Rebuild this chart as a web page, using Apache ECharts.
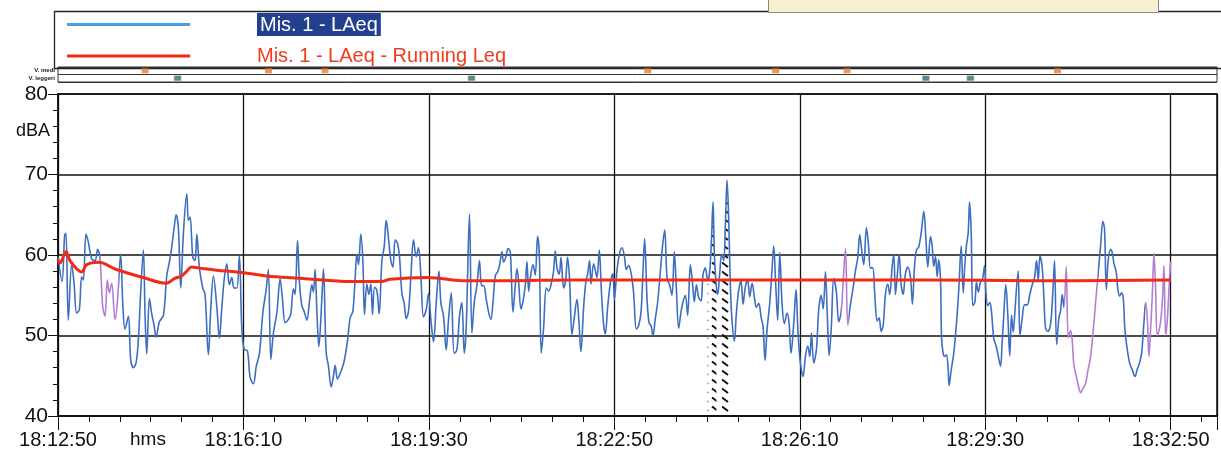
<!DOCTYPE html>
<html>
<head>
<meta charset="utf-8">
<script src="https://cdn.jsdelivr.net/npm/echarts/dist/echarts.min.js"></script>
<style>
  html, body { margin: 0; padding: 0; background: #fff; }
  #chart { width: 1221px; height: 469px; }
</style>
</head>
<body>
<div id="chart"></div>
<script>
// seconds from 18:12:50
const secs = [
  0, 4.3, 7.2, 8.6, 11.1, 14.8, 17.3, 20.1, 23, 25.5, 27.3, 30.2, 32.7, 36.3, 39.9, 42.8, 45.3, 48.2, 50.7, 53.2,
  55.4, 57.9, 61.5, 64, 67.6, 69.8, 72.3, 75.9, 78.4, 81.3, 84.2, 86.7, 89.2, 92.1, 93.9, 95.7, 98.6, 101.1, 103.6, 105.8,
  109.4, 113.7, 117.3, 120.1, 122.7, 125.2, 127.4, 129.8, 132.4, 135.2, 138.9, 140.6, 142.4, 145.4, 147.8, 149.7, 152.5, 156.1, 158.6, 162.2,
  164.8, 167.6, 171.2, 174.1, 176.6, 179.1, 182, 184.8, 187.4, 189.9, 192.8, 195.6, 198.2, 200.7, 204.3, 207.2, 210.8, 213.7, 217.3, 220.9,
  224.5, 226.9, 229.5, 232.3, 236, 239.6, 242.1, 245, 248.5, 251.1, 253.9, 255.7, 258.3, 260.4, 263, 265.8, 268.4, 271.2, 273.8, 275.5,
  277.3, 279.2, 281.3, 284.6, 286.3, 289.2, 291.7, 294.6, 297.1, 298.9, 301.4, 305.1, 308.6, 312.2, 315.1, 318, 320.5, 322.3, 324.1, 326.6,
  328.8, 330.6, 333.1, 335.3, 337.4, 339.2, 341.4, 343.9, 346.4, 349.3, 351.8, 354, 356.5, 359, 361.2, 363.7, 366.2, 368.3, 370.9, 373.4,
  375.5, 378, 380.6, 383.4, 386.3, 388.8, 391.4, 394.2, 397.1, 399.6, 402.2, 405, 407.9, 410.8, 413, 415.8, 418.7, 421.2, 424.1, 427.3,
  430.2, 433, 435.6, 438.1, 440.3, 443.8, 446.4, 448.9, 451.8, 454.6, 456.8, 459, 461.9, 464.4, 466.9, 469.1, 471.6, 474.1, 476.2, 478.8,
  480.6, 483.2, 485.3, 487.8, 490.7, 493.2, 495, 496.8, 499.3, 501.5, 504, 505.8, 507.6, 509.3, 512.3, 514.7, 517.2, 519.1, 521.2, 523.7,
  526.6, 529.1, 531.7, 534.5, 536.3, 538.2, 540.6, 542.5, 545.3, 547.4, 549.6, 551.8, 554.3, 556.8, 559.7, 561.8, 564, 566.9, 569.4, 571.2,
  573.3, 574.8, 577.7, 579.5, 581.3, 583.8, 586, 588.4, 590.3, 592.8, 595.7, 598.6, 600, 602.9, 605.7, 608.3, 610.8, 612.9, 615.4, 618,
  620.8, 623.7, 626.2, 628.8, 630.9, 632.7, 635.3, 637.4, 639.6, 641.7, 644.2, 646.7, 649.6, 652.1, 654.3, 656.9, 659.6, 662.2, 664.7, 666.9,
  669.4, 672, 674.1, 676.6, 679.1, 682, 684.2, 686.3, 688.5, 691, 693.6, 695.7, 698.2, 700.7, 702.9, 704.7, 706.5, 707.9, 710.1, 711.5,
  713.6, 715.8, 718, 719.8, 721.6, 723.4, 725.2, 727, 729.5, 731.6, 734.1, 736.7, 738.8, 741.3, 743.8, 746, 748.6, 751, 753.2, 755.7,
  758.3, 760.4, 762.6, 764.7, 767.6, 770.1, 771.9, 774, 776.2, 778.4, 780.9, 783.4, 786.3, 788.5, 790.6, 793.5, 796, 797.8, 799.9, 801.8,
  803.6, 806.1, 808.6, 810.8, 812.6, 815.1, 818, 820.5, 823.1, 825.3, 827.7, 829.6, 831.7, 834.1, 836.6, 839.5, 842, 844.6, 846.8, 849.3,
  851.8, 854.6, 857.5, 860, 862.5, 864.7, 866.5, 869, 871.9, 874.1, 876.2, 878.7, 880.9, 883.5, 885.6, 887.8, 890, 892.4, 894.9, 897.1,
  899.6, 901.4, 903.2, 905, 907.2, 909.3, 911.5, 914, 916.5, 919.4, 921.5, 923.7, 925.8, 928.3, 930.9, 933.8, 935.9, 938.1, 941, 942.8,
  944.5, 946.4, 948.2, 949.9, 951.8, 952.9, 954.6, 956.4, 958.2, 960.1, 961.1, 963.3, 966.1, 969, 971.5, 974.1, 976.3, 978, 979.8, 981.7,
  983.1, 984.9, 986.6, 988.8, 990.6, 992.5, 994.9, 997.1, 999.3, 1000.7, 1002.8, 1005, 1006.8, 1009.3, 1011.8, 1014, 1016.5, 1018.3, 1020, 1022.2,
  1024.4, 1026.5, 1028.4, 1030.2, 1032, 1033.8, 1035.6, 1037.4, 1039.9, 1042.4, 1045.3, 1048.1, 1050.7, 1053.2, 1055.4, 1057.2, 1059, 1061.5, 1063.3, 1065.1,
  1067.6, 1070.5, 1073, 1074.8, 1077, 1079.5, 1081.3, 1083.1, 1084.9, 1087.4, 1089.6, 1092.1, 1093.9, 1095.6, 1098.5, 1101, 1102.8, 1105.7, 1108.2, 1110.7,
  1113.6, 1116.5, 1119, 1121.5, 1124.4, 1126.9, 1128.7, 1130.6, 1132.7, 1135.2, 1137, 1138.8, 1141.4, 1143.1, 1145, 1147.1, 1149, 1150.7, 1153.3, 1155.7,
  1158.7, 1161.5, 1164, 1166.5, 1168.7, 1171.2, 1173, 1174.9, 1176.6, 1178.4, 1180.2, 1182, 1183.8, 1185.6, 1188.5, 1191, 1192.8, 1194.6, 1196.5, 1198.2,
  1200
]
// Mis. 1 - LAeq (dBA)
const laeq = [
  59.8, 56.7, 62.5, 62.7, 51.9, 58.8, 56.5, 52.8, 53.2, 57.3, 56.9, 62.6, 61.6, 59.5, 59.3, 60.7, 59.7, 53.6, 52.4, 56.9,
  55.3, 56.5, 52.0, 54.1, 60.1, 54.1, 50.8, 52.4, 47.0, 46.0, 46.6, 49.5, 55.4, 60.6, 52.5, 47.7, 54.6, 52.7, 51.3, 49.8,
  51.7, 52.5, 57.4, 59.1, 61.0, 63.3, 65.0, 63.4, 55.9, 62.6, 67.6, 64.3, 64.7, 59.7, 59.3, 62.6, 58.4, 55.9, 55.1, 47.6,
  53.4, 57.4, 53.7, 49.7, 53.3, 56.8, 58.9, 56.3, 57.2, 55.9, 55.9, 59.9, 51.0, 48.3, 48.1, 44.8, 44.0, 46.1, 47.8, 52.8,
  55.7, 58.2, 47.0, 50.3, 52.8, 57.0, 54.5, 51.6, 52.0, 52.7, 55.8, 55.1, 61.8, 56.6, 53.7, 52.9, 51.9, 54.2, 56.3, 55.4,
  58.2, 53.0, 48.6, 54.6, 58.3, 47.9, 46.2, 43.6, 45.0, 46.3, 44.6, 45.5, 46.8, 49.3, 52.2, 53.0, 57.2, 60.1, 58.8, 62.6,
  59.3, 52.6, 56.4, 55.1, 56.4, 52.6, 56.0, 55.6, 52.7, 59.3, 61.0, 64.3, 62.0, 59.3, 58.5, 61.9, 61.4, 59.8, 55.2, 54.0,
  52.1, 53.0, 57.3, 61.9, 59.8, 60.9, 57.3, 52.3, 53.2, 55.2, 51.9, 49.2, 54.0, 58.0, 54.0, 52.4, 48.2, 52.0, 55.3, 47.8,
  48.2, 52.4, 54.1, 47.8, 51.1, 65.1, 50.3, 54.1, 56.2, 59.3, 56.2, 56.2, 54.5, 52.9, 52.0, 54.1, 57.4, 57.9, 58.7, 60.4,
  59.1, 59.8, 60.8, 60.4, 52.9, 56.3, 58.3, 56.7, 53.3, 54.2, 56.3, 59.2, 55.5, 57.1, 58.8, 57.5, 62.3, 60.1, 47.8, 50.9,
  55.9, 55.5, 56.3, 58.0, 60.5, 58.4, 57.6, 59.7, 55.9, 56.8, 59.7, 56.8, 50.1, 52.2, 54.5, 51.8, 48.0, 53.5, 56.8, 57.6,
  59.3, 56.4, 58.9, 58.1, 57.2, 60.6, 55.6, 51.4, 50.2, 53.5, 56.5, 57.7, 54.4, 58.1, 60.2, 60.9, 59.9, 58.2, 58.7, 57.8,
  55.3, 50.8, 51.2, 52.9, 57.9, 62.0, 54.5, 51.6, 51.2, 50.0, 52.1, 54.1, 57.9, 61.2, 63.1, 57.1, 56.3, 55.0, 60.4, 55.9,
  50.9, 53.0, 54.2, 55.0, 52.5, 58.8, 56.7, 54.2, 56.3, 54.7, 54.3, 57.6, 58.4, 56.8, 58.0, 61.8, 66.6, 60.1, 56.0, 55.1,
  57.6, 60.1, 59.3, 63.9, 69.3, 64.3, 56.0, 51.8, 49.3, 52.7, 55.6, 56.8, 53.9, 56.0, 56.9, 54.8, 56.5, 54.8, 53.5, 54.0,
  52.3, 51.1, 46.9, 50.7, 54.0, 58.2, 61.1, 56.5, 51.9, 60.3, 54.0, 51.5, 52.8, 51.5, 47.8, 51.5, 55.7, 51.1, 47.4, 45.7,
  44.9, 47.4, 48.7, 47.4, 50.3, 46.6, 48.3, 53.3, 55.0, 53.3, 57.9, 52.9, 47.5, 51.2, 57.1, 55.4, 51.7, 52.9, 56.7, 60.8,
  51.3, 53.8, 55.9, 58.0, 59.6, 62.5, 60.9, 58.8, 63.4, 61.3, 58.4, 58.4, 55.1, 51.8, 52.2, 50.5, 51.3, 55.1, 56.4, 55.1,
  58.5, 60.1, 55.1, 57.2, 60.1, 56.4, 55.1, 57.7, 58.5, 57.2, 53.9, 58.5, 60.6, 61.0, 62.7, 65.4, 62.3, 58.5, 62.3, 61.1,
  58.6, 59.8, 57.3, 59.4, 56.9, 49.8, 47.8, 47.4, 47.6, 45.7, 43.8, 45.7, 47.8, 51.5, 55.7, 61.1, 55.3, 58.7, 61.2, 62.8,
  66.6, 62.8, 53.7, 54.1, 56.6, 55.4, 56.6, 57.0, 58.7, 55.4, 53.7, 54.1, 52.9, 49.6, 48.7, 47.5, 46.2, 49.2, 52.5, 56.3,
  52.5, 47.5, 52.5, 50.4, 52.9, 55.9, 58.0, 50.0, 52.1, 53.8, 53.8, 55.1, 56.3, 57.2, 59.3, 56.8, 59.9, 58.4, 54.7, 50.9,
  50.5, 51.4, 55.5, 59.3, 48.9, 52.2, 53.1, 55.1, 53.5, 58.5, 49.7, 50.6, 49.3, 46.4, 44.8, 43.5, 42.9, 43.5, 44.0, 45.6,
  47.3, 50.6, 54.0, 57.3, 61.1, 64.2, 63.2, 55.7, 59.4, 60.7, 60.3, 59.0, 57.8, 55.7, 54.9, 55.3, 54.5, 50.7, 48.2, 46.6,
  45.7, 44.9, 45.8, 46.6, 47.8, 51.6, 54.1, 52.0, 47.4, 50.8, 55.0, 60.2, 55.8, 50.0, 51.2, 54.1, 58.7, 50.0, 52.1, 55.8,
  59.2
]
// Mis. 1 - LAeq - Running Leq
const runSecs = [0, 2, 8.6, 12.9, 20, 25.5, 31, 43.5, 63, 92, 117, 126, 133.5, 139, 144, 151, 171, 193, 225, 261, 297, 315, 351, 358, 398, 441, 484, 556, 629, 780, 938, 1050, 1200]
const runLeq = [59.4, 59.0, 60.4, 59.3, 58.3, 57.9, 58.8, 59.1, 58.2, 57.2, 56.5, 57.1, 57.4, 58.0, 58.5, 58.4, 58.1, 57.9, 57.4, 57.1, 56.8, 56.7, 56.75, 57.0, 57.2, 56.8, 56.8, 56.9, 56.9, 56.9, 56.9, 56.8, 56.9]

// marcature (V. medi / V. leggeri)
const mediSecs = [94, 227, 288, 636, 774, 851, 1078]
const leggeriSecs = [129, 446, 936, 984]
// tratti mascherati
const hatchRanges = [[700.5, 710.5], [715.5, 725.5]]
// tratti in viola
const purpleRanges = [[45, 66], [844, 853], [1085, 1122], [1172, 1201]]

const startSec = 18 * 3600 + 12 * 60 + 50
const BLUE = '#3d6ec2'
const PURPLE = '#b27ed2'
const RED = '#f42a18'
const FONT = '"Liberation Sans", Arial, sans-serif'
const N1 = 'Mis. 1 - LAeq'
const N2 = 'Mis. 1 - LAeq - Running Leq'

const pad = (n) => String(n).padStart(2, '0')
const hms = (v) => {
  const s = startSec + Math.round(v)
  return Math.floor(s / 3600) + ':' + pad(Math.floor(s / 60) % 60) + ':' + pad(s % 60)
}

const laeqData = secs.map((t, i) => [t, laeq[i]])
const runData = runSecs.map((t, i) => [t, runLeq[i]])

const hatchData = []
hatchRanges.forEach(([a, b], k) => {
  if (k > 0) hatchData.push([a - 0.5, '-'])
  secs.forEach((t, i) => { if (t >= a && t <= b) hatchData.push([t, laeq[i]]) })
})

const pieces = []
let last = -Infinity
purpleRanges.forEach(([a, b]) => {
  pieces.push({ gte: last, lt: a, color: BLUE })
  pieces.push({ gte: a, lt: b, color: PURPLE })
  last = b
})
pieces.push({ gte: last, color: BLUE })

// hatch pattern
const hatch = document.createElement('canvas')
hatch.width = 10
hatch.height = 9
const hc = hatch.getContext('2d')
hc.strokeStyle = '#111'
hc.lineWidth = 2
hc.beginPath()
hc.moveTo(2, 1.5)
hc.lineTo(8, 6)
hc.stroke()

const chart = echarts.init(document.getElementById('chart'))

const option = {
  animation: false,
  backgroundColor: '#fff',
  textStyle: { fontFamily: FONT },
  legend: {
    orient: 'vertical',
    left: 62,
    top: 8,
    itemWidth: 123,
    itemHeight: 3,
    itemGap: 10,
    icon: 'rect',
    selectedMode: false,
    data: [
      { name: N1, itemStyle: { color: '#4b9de2' } },
      { name: N2, itemStyle: { color: RED } }
    ],
    formatter: (n) => (n === N1 ? '{g| }{hl|' + n + '}' : '{g| }{rd|' + n + '}'),
    textStyle: {
      fontFamily: FONT,
      rich: {
        g: { width: 62 },
        hl: { color: '#fff', backgroundColor: '#23408e', fontSize: 20, lineHeight: 22, padding: [2, 3, 1, 3], fontFamily: FONT },
        rd: { color: '#f03c1c', fontSize: 20, lineHeight: 22, fontFamily: FONT }
      }
    }
  },
  graphic: [
    { type: 'rect', left: 52, top: 9, shape: { width: 1200, height: 57 }, style: { fill: 'none', stroke: '#222', lineWidth: 1.3 }, z: 0 },
    { type: 'rect', left: 768, top: -2, shape: { width: 390, height: 14 }, style: { fill: '#f7f1d2', stroke: '#8a8a7a', lineWidth: 1 }, z: 0 },
    { type: 'text', left: 130, top: 430, style: { text: 'hms', fontSize: 19, fontFamily: FONT, fill: '#111' } }
  ],
  visualMap: {
    show: false,
    type: 'piecewise',
    seriesIndex: 0,
    dimension: 0,
    pieces: pieces
  },
  grid: [
    { left: 58, right: 4, top: 94, bottom: 53, show: true, borderColor: '#111', borderWidth: 1.5 },
    { left: 58, right: 4, top: 67, height: 15, show: true, borderColor: '#333', borderWidth: 1 }
  ],
  xAxis: [
    {
      type: 'value',
      min: 0,
      max: 1250,
      interval: 200,
      axisLine: { lineStyle: { color: '#111', width: 1.5 } },
      axisTick: { length: 14, lineStyle: { color: '#111' } },
      minorTick: { show: true, splitNumber: 6, length: 6, lineStyle: { color: '#111' } },
      splitLine: { show: true, lineStyle: { color: '#111', width: 1.3 } },
      axisLabel: {
        color: '#111',
        fontSize: 20,
        fontFamily: FONT,
        margin: 14,
        showMaxLabel: false,
        formatter: (v) => (v % 200 === 0 ? hms(v) : '')
      }
    },
    {
      type: 'value',
      gridIndex: 1,
      min: 0,
      max: 1250,
      show: false
    }
  ],
  yAxis: [
    {
      type: 'value',
      min: 40,
      max: 80,
      interval: 10,
      name: 'dBA',
      nameLocation: 'end',
      nameGap: -37,
      nameTextStyle: { color: '#111', fontSize: 18, fontFamily: FONT, align: 'right', verticalAlign: 'middle', padding: [0, 8, 0, 0] },
      axisLine: { show: true, lineStyle: { color: '#111', width: 1.5 } },
      axisTick: { show: true, length: 10, lineStyle: { color: '#111' } },
      minorTick: { show: true, splitNumber: 5, length: 5, lineStyle: { color: '#111' } },
      splitLine: { show: true, lineStyle: { color: '#111', width: 1.5 } },
      axisLabel: { color: '#111', fontSize: 21, fontFamily: FONT, margin: 10 }
    },
    {
      type: 'category',
      gridIndex: 1,
      data: ['V. leggeri', 'V. medi'],
      axisLine: { show: false },
      axisTick: { show: false },
      splitLine: { show: true, interval: 0, lineStyle: { color: '#333', width: 1 } },
      axisLabel: { interval: 0, hideOverlap: false, fontSize: 6, fontWeight: 'bold', color: '#222', margin: 3, fontFamily: FONT }
    }
  ],
  series: [
    {
      name: N1,
      type: 'line',
      data: laeqData,
      showSymbol: false,
      smooth: 0.35,
      lineStyle: { width: 1.6 },
      z: 3
    },
    {
      name: 'hatch',
      type: 'line',
      data: hatchData,
      showSymbol: false,
      smooth: 0.35,
      connectNulls: false,
      lineStyle: { width: 0 },
      areaStyle: { color: { image: hatch, repeat: 'repeat' }, opacity: 1, origin: 'start' },
      z: 2,
      silent: true
    },
    {
      name: N2,
      type: 'line',
      data: runData,
      showSymbol: false,
      smooth: 0.4,
      lineStyle: { color: RED, width: 3 },
      itemStyle: { color: RED },
      z: 4
    },
    {
      name: 'V. medi',
      type: 'scatter',
      xAxisIndex: 1,
      yAxisIndex: 1,
      data: mediSecs.map((t) => [t, 'V. medi']),
      symbol: 'rect',
      symbolSize: [7, 5],
      itemStyle: { color: '#ec7a36' }
    },
    {
      name: 'V. leggeri',
      type: 'scatter',
      xAxisIndex: 1,
      yAxisIndex: 1,
      data: leggeriSecs.map((t) => [t, 'V. leggeri']),
      symbol: 'rect',
      symbolSize: [7, 5],
      itemStyle: { color: '#2b6a8c', borderColor: '#d8c040', borderWidth: 0.6 }
    }
  ]
}

chart.setOption(option)
</script>
</body>
</html>
